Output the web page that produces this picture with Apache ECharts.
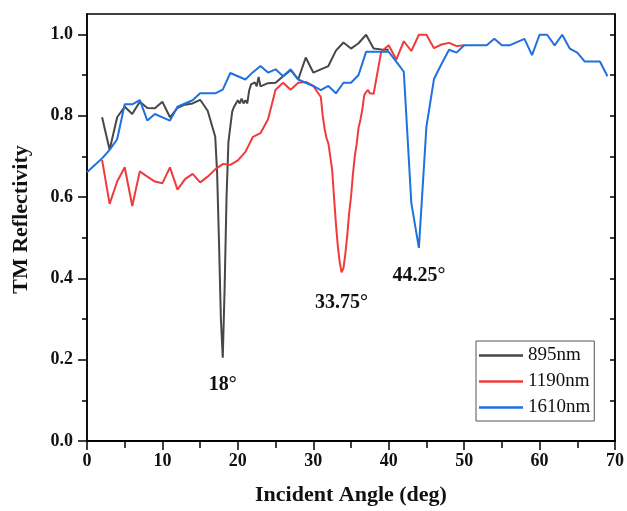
<!DOCTYPE html>
<html>
<head>
<meta charset="utf-8">
<script src="https://cdn.jsdelivr.net/npm/echarts@6/dist/echarts.min.js"></script>
<style>
html,body{margin:0;padding:0;background:#fff;}
#chart{width:627px;height:511px;}
</style>
</head>
<body>
<div id="chart"></div>
<script>
// ---- Data ----
var grayX = [2,3,4,5,6,7,8,9,10,11,12,13,14,15,16,17,17.25,17.5,17.75,18,18.25,18.5,18.75,19,19.25,19.5,19.75,20,20.25,20.5,20.75,21,21.25,21.5,21.75,22,22.25,22.5,22.75,23,24,25,26,27,28,29,30,31,32,33,34,35,36,37,38,39,40];
var grayY = [0.796,0.716,0.796,0.822,0.804,0.834,0.819,0.818,0.834,0.796,0.819,0.827,0.830,0.839,0.812,0.748,0.660,0.490,0.300,0.205,0.380,0.600,0.735,0.773,0.810,0.822,0.820,0.838,0.830,0.842,0.830,0.838,0.830,0.862,0.877,0.877,0.882,0.872,0.895,0.872,0.880,0.881,0.897,0.912,0.889,0.943,0.906,0.914,0.922,0.960,0.980,0.965,0.978,0.999,0.965,0.963,0.962];

var redX = [2,3,4,5,6,7,8,9,10,11,12,13,14,15,16,17,18,19,20,21,22,23,24,25,26,27,28,29,30,31,31.25,31.5,31.75,32,32.25,32.5,32.75,33,33.25,33.5,33.75,34,34.25,34.5,34.75,35,35.25,35.5,35.75,36,36.25,36.5,36.75,37,37.25,37.5,37.75,38,39,40,41,42,43,44,45,46,47,48,49,50];
var redY = [0.691,0.583,0.638,0.673,0.578,0.663,0.650,0.638,0.634,0.673,0.618,0.644,0.657,0.636,0.650,0.668,0.681,0.679,0.690,0.711,0.748,0.757,0.791,0.864,0.881,0.864,0.881,0.883,0.873,0.846,0.800,0.768,0.745,0.732,0.700,0.667,0.600,0.535,0.480,0.440,0.415,0.425,0.460,0.505,0.560,0.600,0.655,0.700,0.730,0.770,0.790,0.815,0.850,0.858,0.863,0.855,0.856,0.854,0.957,0.973,0.938,0.983,0.959,0.999,0.999,0.966,0.975,0.979,0.971,0.973];

var blueX = [0,1,2,3,4,5,6,7,8,9,10,11,12,13,14,15,16,17,18,19,20,21,22,23,24,25,26,27,28,29,30,31,32,33,34,35,36,37,38,39,40,41,42,43,44,45,46,47,48,49,50,51,52,53,54,55,56,57,58,59,60,61,62,63,64,65,66,67,68,69];
var blueY = [0.661,0.678,0.695,0.716,0.742,0.828,0.828,0.838,0.788,0.804,0.796,0.788,0.822,0.830,0.838,0.855,0.855,0.855,0.864,0.905,0.897,0.889,0.907,0.922,0.906,0.914,0.897,0.914,0.889,0.881,0.873,0.863,0.873,0.855,0.881,0.881,0.900,0.957,0.957,0.957,0.957,0.933,0.908,0.585,0.475,0.773,0.890,0.927,0.962,0.955,0.973,0.973,0.973,0.973,0.989,0.973,0.973,0.981,0.989,0.949,0.999,0.999,0.973,0.999,0.965,0.955,0.933,0.933,0.933,0.897];

var seriesNames = ['895nm','1190nm','1610nm'];
var annotations = [
  {series: 0, x: 18, y: 0.205, text: '18°'},
  {series: 1, x: 33.75, y: 0.415, text: '33.75°'},
  {series: 2, x: 44, y: 0.475, text: '44.25°'}
];
var yMajor = [0,0.2,0.4,0.6,0.8,1.0];
var yMinor = [0.1,0.3,0.5,0.7,0.9];
var yAll = [0,0.1,0.2,0.3,0.4,0.5,0.6,0.7,0.8,0.9,1.0];

function pairs(xs, ys){ return xs.map(function(x,i){ return [x, ys[i]]; }); }

var FONT = '"Liberation Serif","Times New Roman","DejaVu Serif",serif';
var colors = ['#474747','#f03b3b','#1f70e0'];
var dataSets = [pairs(grayX, grayY), pairs(redX, redY), pairs(blueX, blueY)];

var offsets = [27, 31, 28];
var series = dataSets.map(function(d, i){
  var ann = annotations.filter(function(a){ return a.series === i; })[0];
  return {
    name: seriesNames[i],
    type: 'line',
    data: d,
    symbol: 'none',
    lineStyle: {color: colors[i], width: 2},
    itemStyle: {color: colors[i]},
    z: 3 + i,
    animation: false,
    markPoint: {
      symbol: 'circle', symbolSize: 0, silent: true,
      label: {show: true, formatter: ann.text, offset: [0, offsets[i]],
        fontFamily: FONT, fontWeight: 'bold', fontSize: 20, color: '#111'},
      data: [{coord: [ann.x, ann.y]}]
    }
  };
});

var chart = echarts.init(document.getElementById('chart'), null, {renderer: 'canvas'});
var axisLineStyle = {color: '#000', width: 1.5};
chart.setOption({
  backgroundColor: '#fff',
  animation: false,
  grid: {left: 87, right: 10, top: 14, bottom: 69, containLabel: false,
    show: true, borderColor: '#000', borderWidth: 1.5, backgroundColor: 'transparent'},
  legend: {
    orient: 'vertical', left: 476, top: 341,
    padding: [5, 4, 4, 3],
    borderColor: '#555', borderWidth: 1, backgroundColor: '#fff',
    icon: 'rect',
    itemWidth: 44, itemHeight: 2.5, itemGap: 7, itemTextGap: 6,
    textStyle: {fontFamily: FONT, fontSize: 19, color: '#111', lineHeight: 18},
    data: seriesNames
  },
  xAxis: [{
    type: 'value', position: 'bottom', min: 0, max: 70, interval: 10,
    name: 'Incident Angle (deg)', nameLocation: 'middle', nameGap: 43,
    nameTextStyle: {fontFamily: FONT, fontWeight: 'bold', fontSize: 22, color: '#111'},
    axisLine: {show: true, lineStyle: axisLineStyle},
    axisTick: {show: true, inside: false, length: 9, lineStyle: {color: '#000', width: 1.5}},
    minorTick: {show: true, splitNumber: 2, length: 5, lineStyle: {color: '#000', width: 1.5}},
    axisLabel: {margin: 11, fontFamily: FONT, fontWeight: 'bold', fontSize: 18, color: '#111'},
    splitLine: {show: false}
  }, {
    type: 'value', position: 'top', min: 0, max: 70, interval: 5,
    axisLine: {show: true, lineStyle: axisLineStyle},
    axisTick: {show: true, inside: true, length: 7, lineStyle: {color: '#000', width: 1.5}},
    axisLabel: {show: false}, splitLine: {show: false}
  }],
  yAxis: [{
    type: 'value', position: 'left', min: 0, max: 1.05,
    name: 'TM Reflectivity', nameLocation: 'middle', nameGap: 55,
    nameTextStyle: {fontFamily: FONT, fontWeight: 'bold', fontSize: 22, color: '#111', padding: [0, 0, 0, 16]},
    axisLine: {show: true, lineStyle: axisLineStyle},
    axisTick: {show: true, inside: false, length: 9, customValues: yMajor, lineStyle: {color: '#000', width: 1.5}},
    axisLabel: {margin: 14, customValues: yMajor, fontFamily: FONT, fontWeight: 'bold', fontSize: 18, color: '#111',
      formatter: function(v){ return v.toFixed(1); }},
    splitLine: {show: false}
  }, {
    type: 'value', position: 'left', min: 0, max: 1.05,
    axisLine: {show: false},
    axisTick: {show: true, inside: false, length: 5, customValues: yMinor, lineStyle: {color: '#000', width: 1.5}},
    axisLabel: {show: false}, splitLine: {show: false}
  }, {
    type: 'value', position: 'right', min: 0, max: 1.05,
    axisLine: {show: true, lineStyle: axisLineStyle},
    axisTick: {show: true, inside: true, length: 5, customValues: yAll, lineStyle: {color: '#000', width: 1.5}},
    axisLabel: {show: false}, splitLine: {show: false}
  }],
  series: series
});
</script>
</body>
</html>
